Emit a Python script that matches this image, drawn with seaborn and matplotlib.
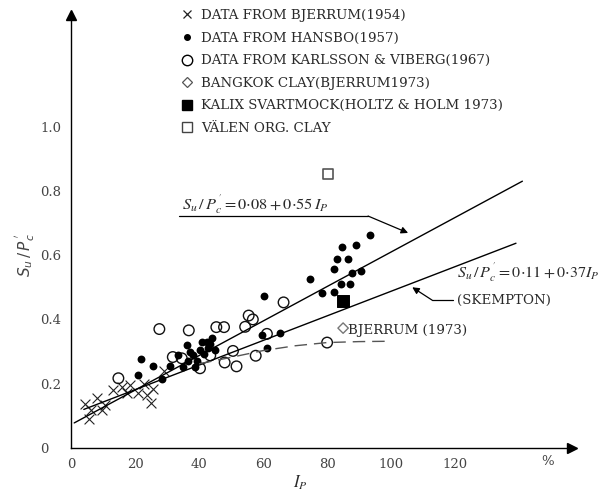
import matplotlib
matplotlib.use("Agg")
import matplotlib.pyplot as plt
import seaborn as sns
from matplotlib.lines import Line2D

# ----------------------------------------------------
# Data (Ip in %, Su/P'c)
# ----------------------------------------------------
bjerrum_ip = [4.4, 8.0, 6.1, 5.7, 9.6, 10.6, 13.2, 15.8, 17.4, 18.4, 21.0, 22.8, 23.6, 25.7, 25.0, 29.0]
bjerrum_su = [0.137, 0.155, 0.118, 0.089, 0.118, 0.134, 0.180, 0.189, 0.170, 0.196, 0.170, 0.200, 0.165, 0.183, 0.140, 0.240]

hansbo_ip = [21.9, 21.0, 25.7, 28.3, 31.0, 33.5, 35.0, 36.1, 37.2, 38.2, 38.8, 40.3, 40.8,
             42.4, 42.9, 44.0, 45.0, 36.5, 39.5, 41.5, 43.5,
             60.3, 59.6, 61.2, 65.3, 74.7, 78.5, 82.0, 84.3, 87.2,
             82.3, 87.9, 90.5, 83.2, 86.5, 84.6, 89.1, 93.4]
hansbo_su = [0.276, 0.227, 0.256, 0.215, 0.255, 0.289, 0.253, 0.320, 0.300, 0.289, 0.253, 0.305, 0.330,
             0.330, 0.310, 0.341, 0.305, 0.270, 0.272, 0.292, 0.322,
             0.473, 0.351, 0.310, 0.357, 0.526, 0.481, 0.486, 0.510, 0.510,
             0.558, 0.545, 0.550, 0.587, 0.587, 0.624, 0.632, 0.663]

karlsson_ip = [14.8, 27.6, 36.8, 31.8, 34.6, 40.3, 43.5, 45.4, 47.8, 48.0, 50.6, 51.7,
               54.4, 55.5, 56.8, 57.7, 61.2, 66.4, 80.0]
karlsson_su = [0.217, 0.370, 0.366, 0.283, 0.279, 0.248, 0.288, 0.376, 0.376, 0.266, 0.302, 0.254,
               0.377, 0.412, 0.400, 0.287, 0.355, 0.453, 0.328]

bangkok_ip = [85.0]
bangkok_su = [0.373]

kalix_ip = [85.0]
kalix_su = [0.457]

valen_ip = [80.3]
valen_su = [0.852]

# fitted lines as drawn
upper_ip = [1.0, 141.0]
upper_su = [0.078, 0.830]
skempton_ip = [4.0, 139.0]
skempton_su = [0.120, 0.637]
bjerrum73_ip = [40, 50, 60, 70, 80, 90, 99]
bjerrum73_su = [0.262, 0.282, 0.303, 0.318, 0.328, 0.331, 0.332]

x_ticks = [0, 20, 40, 60, 80, 100, 120]
y_ticks = [0, 0.2, 0.4, 0.6, 0.8, 1.0]
y_tick_labels = ["0", "0.2", "0.4", "0.6", "0.8", "1.0"]

legend_labels = [
    "DATA FROM BJERRUM(1954)",
    "DATA FROM HANSBO(1957)",
    "DATA FROM KARLSSON & VIBERG(1967)",
    "BANGKOK CLAY(BJERRUM1973)",
    "KALIX SVARTMOCK(HOLTZ & HOLM 1973)",
    "VÄLEN ORG. CLAY",
]

sns.set_style("white")
plt.rcParams["font.family"] = ["DejaVu Serif"]
plt.rcParams["mathtext.fontset"] = "stix"
TXT = "#2a2a2a"

fig = plt.figure(figsize=(6.11, 4.94), dpi=100)
ax = fig.add_axes([71 / 611, 46 / 494, 501 / 611, 433 / 494])
ax.set_xlim(0, 156.5)
ax.set_ylim(0, 1.347)

# ----------------------------------------------------
# Lines
# ----------------------------------------------------
sns.lineplot(x=upper_ip, y=upper_su, ax=ax, color="black", lw=1.0, estimator=None)
sns.lineplot(x=skempton_ip, y=skempton_su, ax=ax, color="black", lw=1.0, estimator=None)
sns.lineplot(x=bjerrum73_ip, y=bjerrum73_su, ax=ax, color="#555555", lw=1.0,
             estimator=None, linestyle=(0, (9, 5)))

# ----------------------------------------------------
# Scatter groups
# ----------------------------------------------------
sns.scatterplot(x=bjerrum_ip, y=bjerrum_su, ax=ax, marker="x", s=50, color="#222222", linewidth=0.8)
sns.scatterplot(x=karlsson_ip, y=karlsson_su, ax=ax, marker="o", s=58, facecolor="none",
                edgecolor="#111111", linewidth=1.0)
sns.scatterplot(x=hansbo_ip, y=hansbo_su, ax=ax, marker="o", s=32, color="black", edgecolor="black", linewidth=0)
sns.scatterplot(x=bangkok_ip, y=bangkok_su, ax=ax, marker="D", s=28, facecolor="none",
                edgecolor="#777777", linewidth=1.0)
sns.scatterplot(x=kalix_ip, y=kalix_su, ax=ax, marker="s", s=75, color="black", edgecolor="black")
sns.scatterplot(x=valen_ip, y=valen_su, ax=ax, marker="s", s=45, facecolor="none",
                edgecolor="#555555", linewidth=1.2)

# ----------------------------------------------------
# Annotations
# ----------------------------------------------------
ax.text(34.7, 0.742, r"$S_u\,/\,P_c^{\,'}=0{\cdot}08+0{\cdot}55\,I_P$", fontsize=11.8, color=TXT, va="baseline")
ax.plot([33.8, 92.8], [0.7216, 0.7216], color="black", lw=0.9)
ax.annotate("", xy=(105.3, 0.669), xytext=(92.8, 0.7216),
            arrowprops=dict(arrowstyle="-|>", color="black", lw=0.9, mutation_scale=10,
                            shrinkA=0, shrinkB=0))

ax.text(120.6, 0.547, r"$S_u\,/\,P_c^{\,'}=0{\cdot}11+0{\cdot}37I_P$", fontsize=11.6, color=TXT, va="center")
ax.text(120.6, 0.459, "(SKEMPTON)", fontsize=9.6, color=TXT, va="center")
ax.plot([119.4, 112.8], [0.46, 0.46], color="black", lw=0.9)
ax.annotate("", xy=(106.6, 0.50), xytext=(112.8, 0.46),
            arrowprops=dict(arrowstyle="-|>", color="black", lw=0.9, mutation_scale=10,
                            shrinkA=0, shrinkB=0))

ax.text(86.6, 0.364, "BJERRUM (1973)", fontsize=9.6, color=TXT, va="center")

# ----------------------------------------------------
# Axes styling: only left/bottom with arrow heads
# ----------------------------------------------------
for side in ["top", "right"]:
    ax.spines[side].set_visible(False)
for side in ["left", "bottom"]:
    ax.spines[side].set_color("black")
    ax.spines[side].set_linewidth(1.0)
ax.plot([1], [0], marker=">", ms=7, color="black", transform=ax.transAxes, clip_on=False)
ax.plot([0], [1], marker="^", ms=7, color="black", transform=ax.transAxes, clip_on=False)

ax.set_xticks(x_ticks)
ax.set_xticklabels([str(t) for t in x_ticks])
ax.set_yticks(y_ticks)
ax.set_yticklabels(y_tick_labels)
ax.tick_params(axis="x", direction="in", length=10, width=1.0, pad=7, labelsize=9.5, labelcolor="#444444")
ax.tick_params(axis="y", direction="in", length=9, width=1.0, pad=22, labelsize=9.5, labelcolor="#444444")
for lab in ax.get_yticklabels():
    lab.set_horizontalalignment("left")

ax.text(0.952, -0.032, "%", transform=ax.transAxes, fontsize=9.5, color="#444444", ha="center", va="center")
ax.set_xlabel(r"$I_P$", fontsize=12, color=TXT)
ax.xaxis.set_label_coords(0.457, -0.081)
ax.xaxis.label.set_verticalalignment("center")
ax.text(-0.092, 0.446, r"$S_u\,/\,P_c^{\,'}$", transform=ax.transAxes, rotation=90,
        fontsize=11, color="#444444", ha="center", va="center", math_fontfamily="dejavusans")

# ----------------------------------------------------
# Legend
# ----------------------------------------------------
handles = [
    Line2D([], [], ls="none", marker="x", ms=6, mew=0.9, color="#222222"),
    Line2D([], [], ls="none", marker="o", ms=4, color="black"),
    Line2D([], [], ls="none", marker="o", ms=7.5, mfc="none", mec="black", mew=1.0),
    Line2D([], [], ls="none", marker="D", ms=5, mfc="none", mec="#555555", mew=0.9),
    Line2D([], [], ls="none", marker="s", ms=7.5, color="black"),
    Line2D([], [], ls="none", marker="s", ms=7, mfc="none", mec="#444444", mew=1.0),
]
fig.legend(handles, legend_labels, loc="upper left", bbox_to_anchor=(180 / 611, 1 - 9 / 494),
           frameon=False, fontsize=9.6, handlelength=1.0, handletextpad=0.55,
           borderpad=0, borderaxespad=0, labelspacing=0.72, labelcolor=TXT)

fig.savefig("out.png", dpi=100)
plt.close(fig)
